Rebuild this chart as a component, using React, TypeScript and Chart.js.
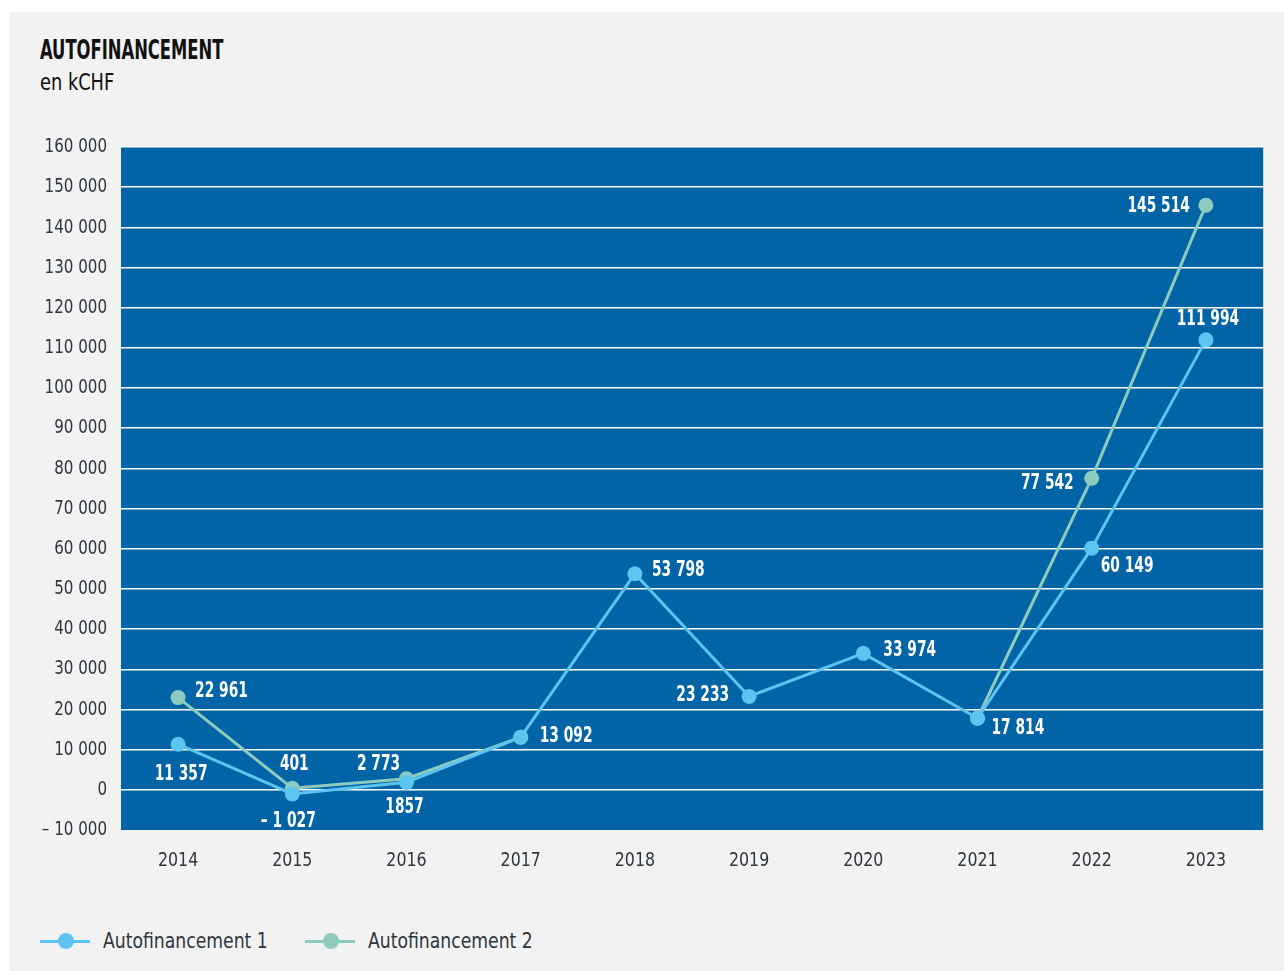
import React, { useEffect, useRef } from "react";
import { Chart, registerables } from "chart.js";

Chart.register(...registerables);

const years = ["2014", "2015", "2016", "2017", "2018", "2019", "2020", "2021", "2022", "2023"];
const series1 = [11357, -1027, 1857, 13092, 53798, 23233, 33974, 17814, 60149, 111994];
const series2 = [22961, 401, 2773, 13092, null, null, null, 17814, 77542, 145514];
const labels1 = ["11 357", "– 1 027", "1857", "13 092", "53 798", "23 233", "33 974", "17 814", "60 149", "111 994"];
const labels2 = ["22 961", "401", "2 773", "", "", "", "", "", "77 542", "145 514"];
const yTickValues = [-10000, 0, 10000, 20000, 30000, 40000, 50000, 60000, 70000, 80000, 90000, 100000, 110000, 120000, 130000, 140000, 150000, 160000];
const seriesNames = ["Autofinancement 1", "Autofinancement 2"];

// label placement: [horizontal align, dx, dy]
const place1: [CanvasTextAlign, number, number][] = [
  ["center", 3, 30], ["center", -4, 28], ["center", -2, 25], ["left", 19, -1], ["left", 17, -3],
  ["right", -20, -1], ["left", 20, -3], ["left", 14, 10], ["left", 9, 18], ["center", 2, -20],
];
const place2: [CanvasTextAlign, number, number][] = [
  ["left", 17, -6], ["center", 2, -24], ["center", -28, -14], ["left", 0, 0], ["left", 0, 0],
  ["left", 0, 0], ["left", 0, 0], ["left", 0, 0], ["right", -18, 5], ["right", -16, 1],
];

const CONDENSED = "'DejaVu Sans Condensed', 'Liberation Sans Narrow', sans-serif";
const PLOT_BG = "#0064a7";
const C1 = "#5bc4f0";
const C2 = "#8ccbbd";
const TEXT = "#2e3640";

const fmtTick = (v: number) => {
  const abs = Math.abs(v);
  const s = String(abs).replace(/\B(?=(\d{3})+(?!\d))/g, " ");
  return v < 0 ? "– " + s : s;
};

function drawSqueezed(ctx: CanvasRenderingContext2D, txt: string, x: number, y: number, sx: number, align: CanvasTextAlign) {
  ctx.save();
  ctx.translate(x, y);
  ctx.scale(sx, 1);
  ctx.textAlign = align;
  ctx.fillText(txt, 0, 0);
  ctx.restore();
}

const bgPlugin = {
  id: "plotBg",
  beforeDraw(chart: any) {
    const { ctx, chartArea } = chart;
    ctx.save();
    ctx.fillStyle = PLOT_BG;
    ctx.fillRect(chartArea.left, chartArea.top, chartArea.right - chartArea.left, chartArea.bottom - chartArea.top);
    ctx.strokeStyle = "#c9d8e6";
    ctx.lineWidth = 1;
    ctx.beginPath();
    ctx.moveTo(chartArea.right + 0.5, chartArea.top);
    ctx.lineTo(chartArea.right + 0.5, chartArea.bottom);
    ctx.stroke();
    ctx.restore();
  },
  afterDraw(chart: any) {
    const { ctx, chartArea } = chart;
    const xs = chart.scales.x;
    const ys = chart.scales.y;
    ctx.save();
    ctx.fillStyle = TEXT;
    ctx.font = `20px ${CONDENSED}`;
    ctx.textBaseline = "middle";
    yTickValues.forEach((v) => {
      drawSqueezed(ctx, fmtTick(v), chartArea.left - 14, ys.getPixelForValue(v), 0.84, "right");
    });
    years.forEach((yr, i) => {
      drawSqueezed(ctx, yr, xs.getPixelForValue(i), chartArea.bottom + 31, 0.88, "center");
    });
    ctx.restore();
  },
};

const labelPlugin = {
  id: "valueLabels",
  afterDatasetsDraw(chart: any) {
    const { ctx } = chart;
    const sets = [
      { idx: 0, labels: labels1, place: place1 },
      { idx: 1, labels: labels2, place: place2 },
    ];
    ctx.save();
    ctx.fillStyle = "#ffffff";
    ctx.font = `bold 21px ${CONDENSED}`;
    ctx.textBaseline = "middle";
    for (const s of sets) {
      const meta = chart.getDatasetMeta(s.idx);
      meta.data.forEach((pt: any, i: number) => {
        const txt = s.labels[i];
        if (!txt) return;
        const [align, dx, dy] = s.place[i];
        drawSqueezed(ctx, txt, pt.x + dx, pt.y + dy, 0.73, align);
      });
    }
    ctx.restore();
  },
};

function LegendItem({ color, label, left }: { color: string; label: string; left: number }) {
  return (
    <div style={{ position: "absolute", left, top: 0, display: "flex", alignItems: "center", height: 30 }}>
      <div style={{ position: "relative", width: 50, height: 16, marginRight: 13, flex: "none" }}>
        <div style={{ position: "absolute", left: 0, right: 0, top: 6.5, height: 3, background: color }} />
        <div style={{ position: "absolute", left: 18, top: 0, width: 16, height: 16, borderRadius: 8, background: color }} />
      </div>
      <span style={{ display: "inline-block", transform: "scaleX(0.87)", transformOrigin: "left center", whiteSpace: "nowrap" }}>
        {label}
      </span>
    </div>
  );
}

export default function App() {
  const canvasRef = useRef<HTMLCanvasElement | null>(null);

  useEffect(() => {
    document.body.style.margin = "0";
    const canvas = canvasRef.current;
    if (!canvas) return;
    const chart = new Chart(canvas, {
      type: "line",
      data: {
        labels: years,
        datasets: [
          {
            label: seriesNames[0],
            data: series1,
            borderColor: C1,
            backgroundColor: C1,
            borderWidth: 3,
            pointRadius: 7.5,
            pointHoverRadius: 7.5,
            pointBorderWidth: 0,
            tension: 0,
            order: 1,
          },
          {
            label: seriesNames[1],
            data: series2,
            borderColor: C2,
            backgroundColor: C2,
            borderWidth: 3,
            pointRadius: 7.5,
            pointHoverRadius: 7.5,
            pointBorderWidth: 0,
            tension: 0,
            spanGaps: false,
            order: 2,
          },
        ],
      },
      options: {
        animation: false,
        responsive: true,
        maintainAspectRatio: false,
        layout: { padding: { left: 0, right: 21, top: 17, bottom: 0 } },
        plugins: {
          legend: { display: false },
          tooltip: { enabled: false },
        },
        scales: {
          x: {
            offset: true,
            grid: { display: false, drawTicks: false },
            border: { display: false },
            ticks: { display: false },
            afterFit: (scale: any) => { scale.height = 60; },
          },
          y: {
            min: -10000,
            max: 160000,
            afterBuildTicks: (scale: any) => { scale.ticks = yTickValues.map((v) => ({ value: v })); },
            grid: {
              color: (ctx: any) => (ctx.tick && ctx.tick.value === -10000 ? "rgba(0,0,0,0)" : "#ffffff"),
              lineWidth: 1.5,
              drawTicks: false,
            },
            border: { display: false },
            ticks: { display: false },
            afterFit: (scale: any) => { scale.width = 111; },
          },
        },
      },
      plugins: [bgPlugin, labelPlugin],
    });
    return () => chart.destroy();
  }, []);

  return (
    <div style={{ position: "relative", width: 1284, height: 971, background: "#ffffff", overflow: "hidden" }}>
      <div style={{ position: "absolute", left: 10, top: 12, width: 1274, height: 959, background: "#f2f2f2" }} />
      <div
        style={{
          position: "absolute",
          left: 40,
          top: 34,
          fontFamily: CONDENSED,
          fontWeight: "bold",
          fontSize: 26,
          color: "#111",
          lineHeight: "32px",
          transform: "scaleX(0.7)",
          transformOrigin: "left center",
          whiteSpace: "nowrap",
        }}
      >
        AUTOFINANCEMENT
      </div>
      <div
        style={{
          position: "absolute",
          left: 40,
          top: 66,
          fontFamily: CONDENSED,
          fontSize: 23,
          color: "#111",
          lineHeight: "32px",
          transform: "scaleX(0.86)",
          transformOrigin: "left center",
          whiteSpace: "nowrap",
        }}
      >
        en kCHF
      </div>
      <div style={{ position: "absolute", left: 10, top: 130, width: 1274, height: 760 }}>
        <canvas ref={canvasRef} />
      </div>
      <div
        style={{
          position: "absolute",
          left: 0,
          top: 926,
          width: 1284,
          height: 30,
          fontFamily: CONDENSED,
          fontSize: 22,
          color: TEXT,
          lineHeight: "30px",
        }}
      >
        <LegendItem color={C1} label={seriesNames[0]} left={40} />
        <LegendItem color={C2} label={seriesNames[1]} left={305} />
      </div>
    </div>
  );
}
